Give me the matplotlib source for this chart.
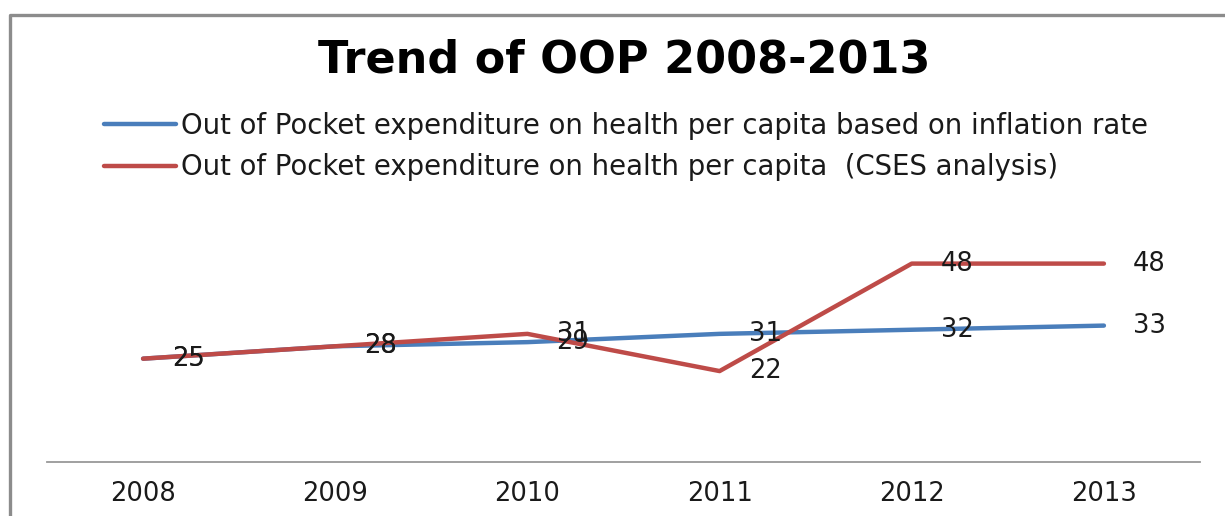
import numpy as np
import matplotlib
matplotlib.use("Agg")
import matplotlib.pyplot as plt
from matplotlib.lines import Line2D

# data
years = ["2008", "2009", "2010", "2011", "2012", "2013"]
oop_inflation = [25, 28, 29, 31, 32, 33]
oop_cses = [25, 28, 31, 22, 48, 48]
series_names = [
    "Out of Pocket expenditure on health per capita based on inflation rate",
    "Out of Pocket expenditure on health per capita  (CSES analysis)",
]

blue = "#4a7ebb"
red = "#be4b48"

fig = plt.figure(figsize=(12.25, 5.16), dpi=100)
ax = fig.add_axes([47 / 1225, 54 / 516, 1153 / 1225, 248 / 516])

x = np.arange(len(years))
ax.plot(x, oop_inflation, color=blue, lw=3.2, solid_capstyle="round", label=series_names[0])
ax.plot(x, oop_cses, color=red, lw=3.2, solid_capstyle="round", label=series_names[1])

# value labels to the right of each point
for xi, v in zip(x, oop_inflation):
    ax.annotate(str(v), (xi, v), xytext=(21, 0), textcoords="offset points",
                ha="left", va="center", fontsize=18.5, color="#1a1a1a")
for xi, v in zip(x, oop_cses):
    ax.annotate(str(v), (xi, v), xytext=(21, 0), textcoords="offset points",
                ha="left", va="center", fontsize=18.5, color="#1a1a1a")

ax.set_xlim(-0.5, len(years) - 0.5)
ax.set_ylim(0, 60)
ax.set_xticks(x)
ax.set_xticklabels(years, fontsize=18.5, color="#1a1a1a")
ax.tick_params(axis="x", length=0, pad=14)
ax.set_yticks([])
for side in ["top", "right", "left"]:
    ax.spines[side].set_visible(False)
ax.spines["bottom"].set_color("#999999")
ax.spines["bottom"].set_linewidth(1.3)

fig.text(624 / 1225, 1 - 60 / 516, "Trend of OOP 2008-2013", ha="center", va="center",
         fontsize=32, fontweight="bold", color="black")

leg = fig.legend(loc="upper left", bbox_to_anchor=(104 / 1225, 1 - 112 / 516),
                 frameon=False, fontsize=19.8, handlelength=2.6, handletextpad=0.2,
                 labelspacing=0.48, borderpad=0, borderaxespad=0)
for t in leg.get_texts():
    t.set_color("#1a1a1a")

# chart frame (clipped on the right and bottom)
fig.add_artist(Line2D([10 / 1225, 10 / 1225, 1.0], [0.0, 1 - 15 / 516, 1 - 15 / 516],
                      transform=fig.transFigure, color="#8c8c8c", lw=2.4))

fig.savefig("out.png", dpi=100)
